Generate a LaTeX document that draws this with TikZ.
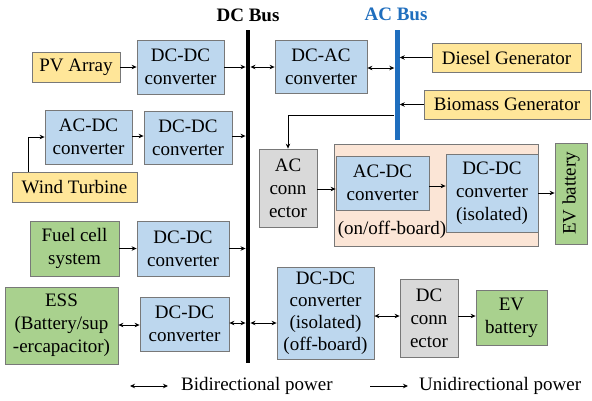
\documentclass[tikz,border=0pt]{standalone}
\usepackage{fontspec}
\setmainfont{Liberation Serif}
\usetikzlibrary{arrows.meta}
\definecolor{bluefill}{RGB}{189,215,238}
\definecolor{yellowfill}{RGB}{255,230,153}
\definecolor{greenfill}{RGB}{169,209,142}
\definecolor{greyfill}{RGB}{217,217,217}
\definecolor{peachfill}{RGB}{251,229,214}
\definecolor{acblue}{RGB}{31,110,190}
\definecolor{boxborder}{RGB}{120,120,120}
\tikzset{
  base/.style={draw=boxborder, line width=0.8pt, inner sep=0pt, align=center,
    font=\fontsize{19}{23}\selectfont},
  bluebox/.style={base, fill=bluefill},
  yellowbox/.style={base, fill=yellowfill},
  greenbox/.style={base, fill=greenfill},
  greybox/.style={base, fill=greyfill},
  peachbox/.style={base, fill=peachfill},
  label/.style={inner sep=0pt, font=\fontsize{19}{23}\selectfont},
  uni/.style={line width=0.9pt, -{Stealth[length=5pt,width=4.5pt]}},
  bi/.style={line width=0.9pt, {Stealth[length=5pt,width=4.5pt]}-{Stealth[length=5pt,width=4.5pt]}},
}
\begin{document}
\begin{tikzpicture}[x=1pt,y=-1pt]
\useasboundingbox[fill=white] (0,0) rectangle (592,400);
% buses
\node[fill=black, inner sep=0pt, minimum width=4.5pt, minimum height=333pt] (dcbus) at (248,196.5) {};
\node[fill=acblue, inner sep=0pt, minimum width=5pt, minimum height=110pt] (acbus) at (397,85) {};
\node[label, font=\fontsize{19}{23}\selectfont\bfseries] (dclabel) at (248,15) {DC Bus};
\node[label, font=\fontsize{19}{23}\selectfont\bfseries, text=acblue] (aclabel) at (396,14) {AC Bus};
% row 1
\node[yellowbox, minimum width=88pt, minimum height=30pt] (pv) at (76,67) {PV Array};
\node[bluebox, minimum width=87pt, minimum height=54pt] (dc1) at (180.5,67) {DC-DC\\converter};
\node[bluebox, minimum width=92pt, minimum height=53pt] (dcac) at (321,66.5) {DC-AC\\converter};
\node[yellowbox, minimum width=149pt, minimum height=29pt] (diesel) at (506.5,57.5) {Diesel Generator};
\node[yellowbox, minimum width=166pt, minimum height=29pt] (biomass) at (507,104.5) {Biomass Generator};
% row 2
\node[bluebox, minimum width=87pt, minimum height=54pt] (acdc1) at (88.5,137) {AC-DC\\converter};
\node[bluebox, minimum width=88pt, minimum height=53pt] (dc2) at (188,137.5) {DC-DC\\converter};
\node[yellowbox, minimum width=125pt, minimum height=30pt] (wind) at (74.5,187) {Wind Turbine};
% AC charging
\node[greybox, minimum width=58pt, minimum height=78pt] (acconn) at (288,188) {AC\\conn\\ector};
\node[peachbox, minimum width=204pt, minimum height=102pt] (peach) at (436,195) {};
\node[bluebox, minimum width=93pt, minimum height=54pt] (acdc2) at (382.5,183) {AC-DC\\converter};
\node[bluebox, minimum width=92pt, minimum height=78pt] (dciso) at (492,193) {DC-DC\\converter\\(isolated)};
\node[label] (onoff) at (392,230) {(on/off-board)};
\node[greenbox, rotate=90, minimum width=101pt, minimum height=32pt] (ev1) at (571,193.5) {EV battery};
% row 3
\node[greenbox, minimum width=89pt, minimum height=55pt] (fuel) at (74.5,248.5) {Fuel cell\\system};
\node[bluebox, minimum width=92pt, minimum height=55pt] (dc3) at (183,248.5) {DC-DC\\converter};
% row 4
\node[greenbox, minimum width=113pt, minimum height=77pt] (ess) at (61.5,325.5) {ESS\\(Battery/sup\\-ercapacitor)};
\node[bluebox, minimum width=89pt, minimum height=54pt] (dc4) at (184.5,324) {DC-DC\\converter};
\node[bluebox, minimum width=97pt, minimum height=92pt, font=\fontsize{19}{22}\selectfont] (dcoff) at (325.5,313) {DC-DC\\converter\\(isolated)\\(off-board)};
\node[greybox, minimum width=58pt, minimum height=78pt] (dcconn) at (429,318) {DC\\conn\\ector};
\node[greenbox, minimum width=71pt, minimum height=55pt] (ev2) at (511.5,317.5) {EV\\battery};
% connectors
\draw[uni] (pv) -- (dc1);
\draw[uni] (dc1.east) -- (dc1.east -| dcbus.west);
\draw[bi] (dcbus.east |- 0,67) -- (dcac.west |- 0,67);
\draw[bi] (dcac.east |- 0,68) -- (acbus.west |- 0,68);
\draw[uni] (diesel.west) -- (diesel.west -| acbus.east);
\draw[uni] (biomass.west) -- (biomass.west -| acbus.east);
\draw[uni] ([xshift=17pt]wind.north west) |- (acdc1.west);
\draw[uni] (acdc1.east |- 0,136) -- (dc2.west |- 0,136);
\draw[uni] (dc2.east |- 0,136) -- (dcbus.west |- 0,136);
\draw[line width=0.9pt, -{Stealth[length=5pt,width=4.5pt]}] (acbus.west |- 0,115) -| (acconn.north);
\draw[uni] (acconn.east |- 0,189) -- (acdc2.west |- 0,189);
\draw[uni] (acdc2.east |- 0,186) -- (dciso.west |- 0,186);
\draw[uni] (dciso.east) -- (ev1.north |- dciso.east);
\draw[uni] (fuel) -- (dc3);
\draw[uni] (dc3.east) -- (dc3.east -| dcbus.west);
\draw[bi] (ess.east |- 0,325) -- (dc4.west |- 0,325);
\draw[bi] (dc4.east |- 0,323) -- (dcbus.west |- 0,323);
\draw[bi] (dcbus.east |- 0,323) -- (dcoff.west |- 0,323);
\draw[bi] (dcoff.east |- 0,316) -- (dcconn.west |- 0,316);
\draw[uni] (dcconn.east |- 0,316) -- (ev2.west |- 0,316);
% legend
\coordinate (lb1) at (130,386);
\coordinate (lb2) at (168,386);
\coordinate (lu1) at (370,386);
\coordinate (lu2) at (408,386);
\draw[bi] (lb1) -- (lb2);
\draw[uni] (lu1) -- (lu2);
\node[label, anchor=west] (bitext) at (181,386) {Bidirectional power};
\node[label, anchor=west] (unitext) at (419,386) {Unidirectional power};
\end{tikzpicture}
\end{document}
